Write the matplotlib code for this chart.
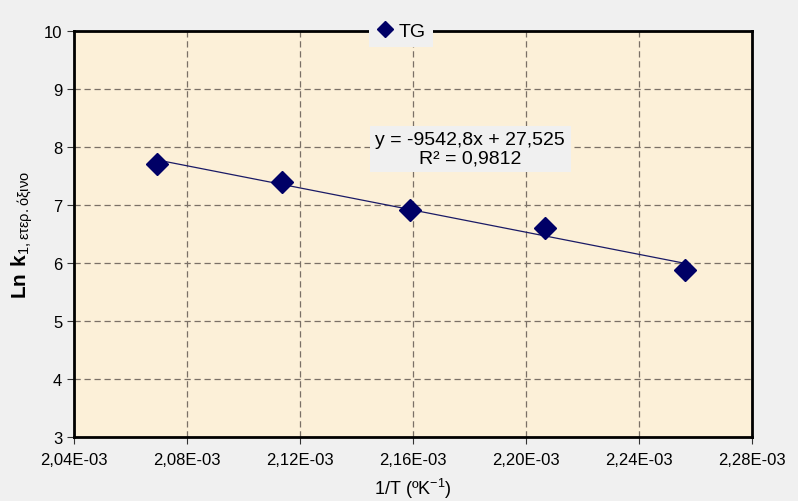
import numpy as np
import matplotlib
matplotlib.use('Agg')
import matplotlib.pyplot as plt
from matplotlib.ticker import FixedLocator, FuncFormatter

# Datos
inv_T = [2.0694e-3, 2.1136e-3, 2.1589e-3, 2.2067e-3, 2.2563e-3]
ln_k = [7.71, 7.40, 6.92, 6.61, 5.88]
serie = 'TG'
pendiente = -9542.8
ordenada = 27.525
ecuacion = 'y = -9542,8x + 27,525\nR² = 0,9812'

x_ticks = [2.04e-3, 2.08e-3, 2.12e-3, 2.16e-3, 2.20e-3, 2.24e-3, 2.28e-3]
y_ticks = [3, 4, 5, 6, 7, 8, 9, 10]

plt.rcParams['font.family'] = ['Liberation Sans', 'DejaVu Sans']
plt.rcParams['mathtext.fontset'] = 'custom'
plt.rcParams['mathtext.rm'] = 'Liberation Sans'
plt.rcParams['mathtext.bf'] = 'Liberation Sans:bold'

fig = plt.figure(figsize=(7.98, 5.02), dpi=100, facecolor='#f0f0f0')
ax = fig.add_axes([0.0927, 0.1275, 0.8496, 0.8088])
ax.set_facecolor('#fcf0d8')

# Línea de tendencia
xl = np.array([inv_T[0], inv_T[-1]])
ax.plot(xl, pendiente * xl + ordenada, color='#1a1a66', lw=0.9, zorder=3)

# Puntos
ax.plot(inv_T, ln_k, linestyle='none', marker='D', markersize=11,
        color='#000066', zorder=4, label=serie)

ax.set_xlim(2.04e-3, 2.28e-3)
ax.set_ylim(3, 10)
ax.xaxis.set_major_locator(FixedLocator(x_ticks))
ax.yaxis.set_major_locator(FixedLocator(y_ticks))
ax.xaxis.set_major_formatter(FuncFormatter(
    lambda v, p: ('%.2fE-03' % (v * 1e3)).replace('.', ',')))

ax.grid(True, color='#7a7066', linestyle=(0, (5, 3)), linewidth=0.9)
for s in ax.spines.values():
    s.set_linewidth(2)
    s.set_color('black')
ax.tick_params(axis='both', labelsize=12, color='#333333', length=5,
               direction='out')
ax.tick_params(axis='x', pad=6)

ax.set_xlabel('1/T (º$\\mathrm{K}^{\\mathrm{-1}}$)', fontsize=13, labelpad=6)
ax.set_ylabel('$\\mathbf{Ln\\ k}_{\\mathrm{1, ετερ. όξινο}}$', fontsize=15,
              labelpad=6)

ax.text(2.1802e-3, 7.97, ecuacion, ha='center', va='center', fontsize=14,
        linespacing=1.05,
        bbox=dict(facecolor='#f0f0f0', edgecolor='none', pad=4), zorder=5)

leg = ax.legend(loc='center', bbox_to_anchor=(0.482, 1.0), fontsize=14,
                frameon=True, fancybox=False, handletextpad=0.2,
                handlelength=1.0, borderpad=0.35, markerscale=0.7)
leg.get_frame().set_facecolor('#f0f0f0')
leg.get_frame().set_edgecolor('none')
leg.get_frame().set_alpha(1)

fig.savefig('out.png', dpi=100, facecolor=fig.get_facecolor())
